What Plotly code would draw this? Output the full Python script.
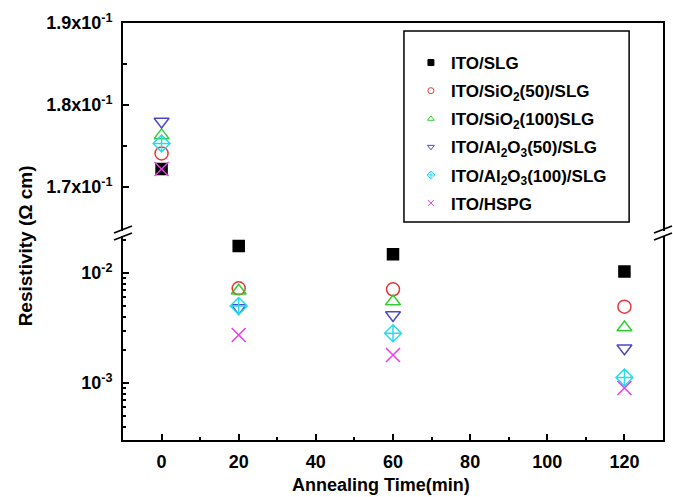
import plotly.graph_objects as go

# Annealing times (min): the as-deposited point sits on the upper (linear) panel,
# the annealed points on the lower (log) panel.
time_asdep = [0]
time_anneal = [20, 60, 120]

series_names = [
    "ITO/SLG",
    "ITO/SiO<sub>2</sub>(50)/SLG",
    "ITO/SiO<sub>2</sub>(100)SLG",
    "ITO/Al<sub>2</sub>O<sub>3</sub>(50)/SLG",
    "ITO/Al<sub>2</sub>O<sub>3</sub>(100)/SLG",
    "ITO/HSPG",
]

# Resistivity (ohm cm)
rho_slg = [0.1722, 0.0176, 0.0148, 0.0103]
rho_sio2_50 = [0.1741, 0.00726, 0.00711, 0.00494]
rho_sio2_100 = [0.1763, 0.0069, 0.0055, 0.0032]
rho_al2o3_50 = [0.1780, 0.00481, 0.00415, 0.00207]
rho_al2o3_100 = [0.1753, 0.00501, 0.00283, 0.00112]
rho_hspg = [0.1722, 0.00273, 0.0018, 0.00090]

upper_ticks = [0.17, 0.18, 0.19]
upper_ticktext = ["1.7x10<sup>-1</sup>", "1.8x10<sup>-1</sup>", "1.9x10<sup>-1</sup>"]
lower_ticks = [1e-3, 1e-2]
lower_ticktext = ["10<sup>-3</sup>", "10<sup>-2</sup>"]
x_ticks = [0, 20, 40, 60, 80, 100, 120]

all_rho = [rho_slg, rho_sio2_50, rho_sio2_100, rho_al2o3_50, rho_al2o3_100, rho_hspg]
colors = ["#000000", "#e8393a", "#30d030", "#4a4ac8", "#28dcea", "#ea3cea"]
symbols = ["square", "circle-open", "triangle-up-open", "triangle-down-open",
           "diamond-cross-open", "x-thin-open"]
sizes = [11, 13, 13, 13, 13, 14]

FONT = "Liberation Sans, Arial, Helvetica, sans-serif"

fig = go.Figure()

for name, rho, col, sym, sz in zip(series_names, all_rho, colors, symbols, sizes):
    mk = dict(symbol=sym, size=sz, color=col, line=dict(color=col, width=1.5))
    # upper linear panel
    fig.add_trace(go.Scatter(x=time_asdep, y=rho[:1], mode="markers", marker=mk,
                             xaxis="x2", yaxis="y2", showlegend=False, cliponaxis=False))
    # lower log panel
    fig.add_trace(go.Scatter(x=time_anneal, y=rho[1:], mode="markers", marker=mk,
                             xaxis="x", yaxis="y", showlegend=False, cliponaxis=False))
    # small legend entry
    fig.add_trace(go.Scatter(x=[None], y=[None], mode="markers", name=name,
                             legendgroup=name,
                             marker=dict(symbol=sym, size=6, color=col,
                                         line=dict(color=col, width=1)),
                             xaxis="x", yaxis="y"))

W, H = 673, 497
ml, mr, mt, mb = 123, 8, 23, 57
pw, ph = W - ml - mr, H - mt - mb


def px_x(p):
    return (p - ml) / pw


def px_y(p):
    return (H - mb - p) / ph


axis_common = dict(showline=True, linecolor="black", linewidth=2, showgrid=False,
                   zeroline=False, ticks="inside", tickcolor="black", tickwidth=1.5,
                   tickfont=dict(family=FONT, size=18, color="black", weight="bold"))

minor_lower = [m * 10 ** e for e in (-4, -3) for m in range(2, 10)] + [2e-2]
minor_lower = [v for v in minor_lower if v >= 3.1e-4]

fig.update_layout(
    width=W, height=H,
    margin=dict(l=ml, r=mr, t=mt, b=mb),
    paper_bgcolor="white", plot_bgcolor="white",
    xaxis=dict(axis_common, range=[-10, 130], tickvals=x_ticks, ticklen=6,
               ticklabelstandoff=4,
               minor=dict(ticks="inside", ticklen=3, tickvals=[10, 30, 50, 70, 90, 110],
                          tickcolor="black", tickwidth=1.5),
               anchor="y", mirror=False),
    xaxis2=dict(range=[-10, 130], showline=True, linecolor="black", linewidth=2,
                showgrid=False, zeroline=False, showticklabels=False, ticks="",
                anchor="y2", side="top", matches="x"),
    yaxis=dict(axis_common, type="log", range=[-3.518, -1.664], domain=[0, px_y(236)],
               tickvals=lower_ticks, ticktext=lower_ticktext, ticklen=6, mirror=True,
               ticklabelstandoff=5,
               minor=dict(ticks="inside", ticklen=3, tickvals=minor_lower,
                          tickcolor="black", tickwidth=1.5),
               anchor="x"),
    yaxis2=dict(axis_common, range=[0.16463, 0.19002], domain=[px_y(231), 1],
                tickvals=upper_ticks, ticktext=upper_ticktext, ticklen=6, mirror=True,
                ticklabelstandoff=5,
                minor=dict(ticks="inside", ticklen=4, tickvals=[0.175, 0.185],
                           tickcolor="black", tickwidth=1.5),
                anchor="x2"),
    legend=dict(x=px_x(412), y=px_y(45), xanchor="left", yanchor="top",
                borderwidth=0, bgcolor="rgba(0,0,0,0)",
                font=dict(family=FONT, size=17, color="black", weight="bold"),
                traceorder="grouped", tracegroupgap=3, itemsizing="trace"),
    showlegend=True,
)

# legend frame
fig.add_shape(type="rect", xref="paper", yref="paper",
              x0=px_x(405), y0=px_y(222), x1=px_x(631), y1=px_y(31),
              line=dict(color="black", width=1.5), fillcolor="rgba(0,0,0,0)")

# axis titles
fig.add_annotation(text="<b>Resistivity (Ω cm)</b>", textangle=-90, xref="paper", yref="paper",
                   x=px_x(25), y=px_y(246), xanchor="center", yanchor="middle",
                   showarrow=False, font=dict(family=FONT, size=19, color="black"))
fig.add_annotation(text="<b>Annealing Time(min)</b>", xref="paper", yref="paper",
                   x=px_x(382), y=px_y(485), xanchor="center", yanchor="middle",
                   showarrow=False, font=dict(family=FONT, size=18, color="black"))

# axis-break marks on both vertical axes
for xc in (ml, ml + pw):
    for yc in (229.5, 236.5):
        fig.add_shape(type="line", xref="paper", yref="paper",
                      x0=px_x(xc - 9), y0=px_y(yc + 3.5), x1=px_x(xc + 9), y1=px_y(yc - 3.5),
                      line=dict(color="black", width=1.8))

fig.write_html("out.html")
